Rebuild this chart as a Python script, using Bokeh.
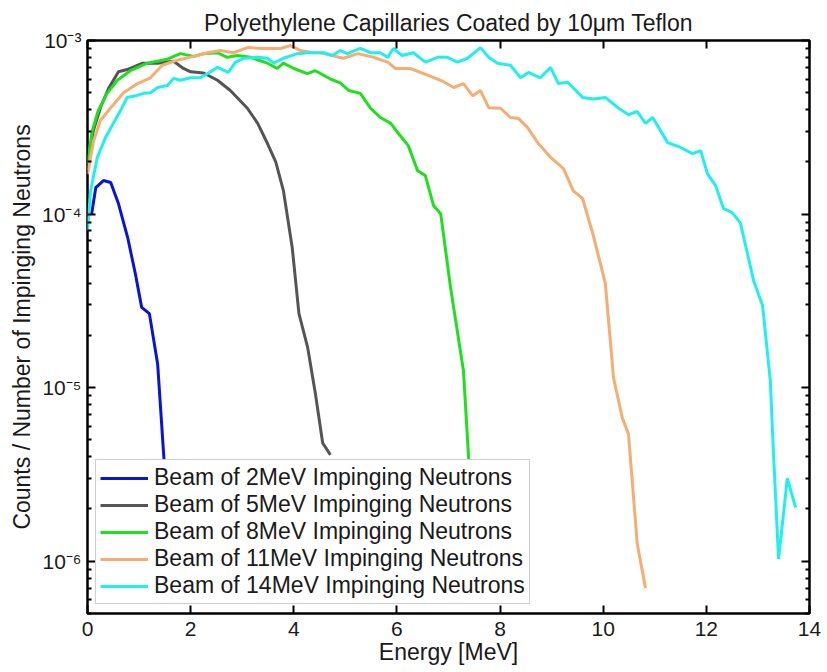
from bokeh.plotting import figure
from bokeh.models import (FixedTicker, Legend, LegendItem, LinearAxis, LogAxis,
                          CustomJSTickFormatter)
from bokeh.embed import file_html
from bokeh.resources import INLINE

# Energy [MeV] and counts per impinging neutron
e_2 = [0.08, 0.16, 0.31, 0.45, 0.6, 0.78, 0.93, 1.05, 1.2, 1.36, 1.49, 1.56, 1.65]
c_2 = [1.0e-4, 1.42e-4, 1.56e-4, 1.52e-4, 1.15e-4, 7.3e-5, 4.5e-5, 2.9e-5, 2.67e-5,
       1.37e-5, 3.6e-6, 1.6e-6, 6e-7]

e_5 = [0, 0.11, 0.25, 0.41, 0.6, 0.77, 1.07, 1.36, 1.67, 1.86, 2.0, 2.25, 2.52, 2.77,
       3.1, 3.3, 3.49, 3.65, 3.8, 3.97, 4.1, 4.27, 4.42, 4.56, 4.71]
c_5 = [1.8e-4, 3.0e-4, 4.1e-4, 5.3e-4, 6.6e-4, 6.8e-4, 7.4e-4, 7.4e-4, 7.6e-4, 6.9e-4,
       6.6e-4, 6.5e-4, 5.9e-4, 5.15e-4, 4.07e-4, 3.33e-4, 2.55e-4, 2.0e-4, 1.36e-4,
       6.4e-5, 2.67e-5, 1.7e-5, 9.2e-6, 4.8e-6, 4.1e-6]

e_8 = [0, 0.09, 0.21, 0.38, 0.58, 0.83, 1.16, 1.55, 1.8, 2.06, 2.25, 2.52, 2.71, 2.91,
       3.16, 3.49, 3.68, 3.8, 4.0, 4.26, 4.42, 4.71, 4.9, 5.07, 5.29, 5.49, 5.68, 5.88,
       6.03, 6.22, 6.4, 6.55, 6.71, 6.85, 7.04, 7.29, 7.39, 7.45]
c_8 = [1.95e-4, 3.0e-4, 3.95e-4, 4.96e-4, 5.9e-4, 6.7e-4, 7.4e-4, 7.8e-4, 8.4e-4, 8.1e-4,
       8.4e-4, 8.5e-4, 8.0e-4, 8.2e-4, 8.0e-4, 7.4e-4, 6.9e-4, 7.4e-4, 6.9e-4, 6.45e-4,
       6.7e-4, 6.0e-4, 5.7e-4, 5.15e-4, 4.96e-4, 4.06e-4, 3.6e-4, 3.33e-4, 2.91e-4,
       2.48e-4, 1.78e-4, 1.67e-4, 1.12e-4, 1.0e-4, 3.77e-5, 1.25e-5, 3.95e-6, 1.5e-6]

e_11 = [0, 0.12, 0.25, 0.45, 0.7, 0.97, 1.22, 1.45, 1.74, 2.06, 2.33, 2.58, 2.83, 3.1,
        3.41, 3.74, 3.94, 4.13, 4.38, 4.52, 4.96, 5.24, 5.55, 5.82, 5.97, 6.26, 6.52,
        6.85, 7.1, 7.29, 7.47, 7.62, 7.78, 8.01, 8.2, 8.36, 8.53, 8.73, 8.98, 9.23,
        9.42, 9.6, 9.81, 10.04, 10.2, 10.37, 10.49, 10.66, 10.82]
c_11 = [1.7e-4, 2.65e-4, 3.46e-4, 4.1e-4, 5.0e-4, 5.65e-4, 6.1e-4, 7.2e-4, 7.7e-4, 8.1e-4,
        8.5e-4, 8.75e-4, 8.5e-4, 9.1e-4, 9.0e-4, 9.0e-4, 9.35e-4, 8.75e-4, 8.5e-4, 8.5e-4,
        7.9e-4, 8.4e-4, 8.0e-4, 7.5e-4, 6.9e-4, 6.9e-4, 6.45e-4, 5.9e-4, 5.36e-4, 5.65e-4,
        4.8e-4, 5.15e-4, 4.1e-4, 4.07e-4, 3.6e-4, 3.55e-4, 3.16e-4, 2.58e-4, 2.12e-4,
        1.83e-4, 1.36e-4, 1.23e-4, 7.5e-5, 4.0e-5, 1.14e-5, 6.7e-6, 5.4e-6, 1.26e-6, 7.0e-7]

e_14 = [0, 0.06, 0.19, 0.35, 0.5, 0.64, 0.77, 0.93, 1.09, 1.22, 1.36, 1.55, 1.67, 1.8,
        2.0, 2.19, 2.33, 2.52, 2.73, 2.87, 3.03, 3.3, 3.49, 3.61, 3.8, 4.07, 4.26, 4.58,
        4.75, 4.9, 5.04, 5.29, 5.49, 5.68, 5.82, 5.93, 6.1, 6.32, 6.55, 6.79, 6.98, 7.17,
        7.37, 7.62, 7.78, 7.95, 8.2, 8.4, 8.55, 8.78, 8.98, 9.13, 9.31, 9.6, 9.81, 10.04,
        10.3, 10.49, 10.66, 10.82, 10.96, 11.25, 11.5, 11.73, 11.89, 12.02, 12.18, 12.33,
        12.5, 12.66, 12.92, 13.09, 13.24, 13.3, 13.4, 13.57, 13.73]
c_14 = [8.0e-5, 1.36e-4, 2.12e-4, 2.76e-4, 3.33e-4, 3.95e-4, 4.7e-4, 4.8e-4, 4.96e-4,
        5.0e-4, 5.36e-4, 5.5e-4, 6.05e-4, 5.9e-4, 6.1e-4, 6.1e-4, 6.45e-4, 7.0e-4, 6.55e-4,
        7.5e-4, 7.9e-4, 8.0e-4, 7.9e-4, 7.4e-4, 7.9e-4, 8.4e-4, 8.5e-4, 8.5e-4, 8.2e-4,
        8.75e-4, 8.4e-4, 9.0e-4, 8.5e-4, 8.5e-4, 8.0e-4, 9.0e-4, 8.2e-4, 8.5e-4, 7.5e-4,
        8.0e-4, 8.0e-4, 7.5e-4, 7.9e-4, 9.1e-4, 8.0e-4, 7.4e-4, 7.2e-4, 6.1e-4, 6.55e-4,
        6.1e-4, 7.0e-4, 5.65e-4, 5.75e-4, 4.7e-4, 4.6e-4, 4.7e-4, 4.07e-4, 3.74e-4, 3.9e-4,
        3.33e-4, 3.6e-4, 2.58e-4, 2.42e-4, 2.23e-4, 2.32e-4, 1.71e-4, 1.46e-4, 1.08e-4,
        1.02e-4, 8.9e-5, 4.1e-5, 2.97e-5, 1.1e-5, 4.3e-6, 1.03e-6, 3.0e-6, 2.04e-6]

series_names = ["Beam of 2MeV Impinging Neutrons", "Beam of 5MeV Impinging Neutrons",
                "Beam of 8MeV Impinging Neutrons", "Beam of 11MeV Impinging Neutrons",
                "Beam of 14MeV Impinging Neutrons"]
series_colors = ["#0a14d2", "#555555", "#1ee01e", "#f4ad72", "#22eeee"]

x_ticks = [0, 2, 4, 6, 8, 10, 12, 14]
y_ticks = [1e-6, 1e-5, 1e-4, 1e-3]
y_minor = [m * 10.0 ** d for d in (-7, -6, -5, -4) for m in range(2, 10)]
x_minor = []

FONT = "Liberation Sans"

p = figure(width=827, height=672, y_axis_type="log", x_range=(0, 14), y_range=(5e-7, 1e-3),
           output_backend="svg", toolbar_location=None,
           min_border_left=87, min_border_right=18, min_border_top=40, min_border_bottom=59,
           title="Polyethylene Capillaries Coated by 10\u03bcm Teflon")

p.title.align = "center"
p.title.text_font = FONT
p.title.text_font_size = "23px"
p.title.text_font_style = "normal"
p.title.text_color = "#1a1a1a"
p.title.standoff = 10

p.grid.visible = False
p.outline_line_color = "black"
p.outline_line_width = 2.5
p.background_fill_color = "white"
p.border_fill_color = "white"

sup = CustomJSTickFormatter(code="""
const m = {"-": "\u207b", "0": "\u2070", "1": "\u00b9", "2": "\u00b2", "3": "\u00b3",
           "4": "\u2074", "5": "\u2075", "6": "\u2076", "7": "\u2077", "8": "\u2078", "9": "\u2079"};
const e = Math.round(Math.log10(tick));
return "10" + String(e).split("").map(c => m[c]).join("");
""")

def style_axis(ax, labels=True):
    ax.axis_line_color = None
    ax.major_tick_line_color = "black"
    ax.minor_tick_line_color = "black"
    ax.major_tick_line_width = 2
    ax.minor_tick_line_width = 2
    ax.major_tick_in = 8
    ax.major_tick_out = 0
    ax.minor_tick_in = 4
    ax.minor_tick_out = 0
    ax.major_label_text_font = FONT
    ax.major_label_text_font_size = "21px"
    ax.major_label_text_color = "#1a1a1a" if labels else None
    ax.axis_label_text_font = FONT
    ax.axis_label_text_font_size = "23px"
    ax.axis_label_text_font_style = "normal"
    ax.axis_label_text_color = "#1a1a1a"

xa = p.xaxis[0]
xa.ticker = FixedTicker(ticks=x_ticks, minor_ticks=x_minor)
xa.axis_label = "Energy [MeV]"
style_axis(xa)
xa.major_label_standoff = 8
xa.axis_label_standoff = 0

ya = p.yaxis[0]
ya.ticker = FixedTicker(ticks=y_ticks, minor_ticks=y_minor)
ya.formatter = sup
ya.axis_label = "Counts / Number of Impinging Neutrons"
style_axis(ya)
ya.major_label_standoff = 6
ya.axis_label_standoff = 4

top = LinearAxis(ticker=FixedTicker(ticks=x_ticks, minor_ticks=x_minor))
style_axis(top, labels=False)
top.major_label_standoff = 0
p.add_layout(top, "above")

right = LogAxis(ticker=FixedTicker(ticks=y_ticks, minor_ticks=y_minor))
style_axis(right, labels=False)
right.major_label_standoff = 0
p.add_layout(right, "right")

data = [(e_2, c_2), (e_5, c_5), (e_8, c_8), (e_11, c_11), (e_14, c_14)]
items = []
for (xs, ys), name, col in zip(data, series_names, series_colors):
    r = p.line(xs, ys, line_color=col, line_width=3)
    items.append(LegendItem(label=name, renderers=[r]))

legend = Legend(items=items, location=(8, 9), margin=0, padding=4, spacing=0,
                label_height=22, glyph_height=22, glyph_width=48, label_standoff=6,
                label_text_font=FONT, label_text_font_size="23px", label_text_color="#1a1a1a",
                border_line_color="#a0a0a0", border_line_width=1.5,
                background_fill_color="white", background_fill_alpha=1.0)
p.add_layout(legend, "center")

open("out.html", "w").write(file_html(p, INLINE))
